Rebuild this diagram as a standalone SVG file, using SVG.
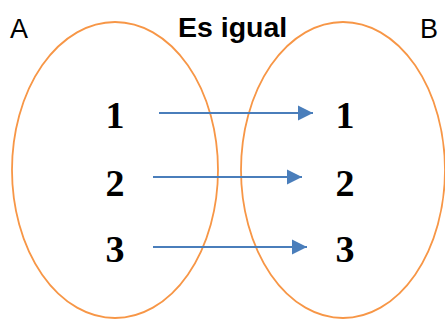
<svg xmlns="http://www.w3.org/2000/svg" width="445" height="320" viewBox="0 0 445 320">
<defs>
<style>
.set{fill:none;stroke:#F79646;stroke-width:1.8}
.lbl{font-family:"Liberation Sans",Arial,sans-serif;font-size:27px;fill:#000}
.title{font-family:"Liberation Sans",Arial,sans-serif;font-size:28.5px;font-weight:bold;fill:#000}
.num{font-family:"Liberation Serif","Times New Roman",serif;font-size:38px;font-weight:bold;fill:#000;text-anchor:middle}
.edge{stroke:#4A7EBB;stroke-width:2;fill:none}
</style>
<marker id="ah" markerUnits="userSpaceOnUse" markerWidth="16" markerHeight="16" viewBox="0 0 16 16" refX="15" refY="8" orient="auto">
<path d="M0,0.5 L15,8 L0,15.5 Z" fill="#4A7EBB"/>
</marker>
</defs>
<g id="setA">
<ellipse class="set" cx="115" cy="170" rx="103" ry="148"/>
<text class="lbl" x="10" y="38">A</text>
</g>
<g id="setB">
<ellipse class="set" cx="343" cy="170" rx="102" ry="148"/>
<text class="lbl" x="420" y="38">B</text>
</g>
<g id="title">
<text class="title" x="178" y="37">Es igual</text>
</g>
<g id="a1"><text class="num" x="115" y="128">1</text></g>
<g id="a2"><text class="num" x="115" y="196">2</text></g>
<g id="a3"><text class="num" x="115" y="262">3</text></g>
<g id="b1"><text class="num" x="345" y="128">1</text></g>
<g id="b2"><text class="num" x="345" y="196">2</text></g>
<g id="b3"><text class="num" x="345" y="262">3</text></g>
<g id="connectors">
<line class="edge" x1="159" y1="113" x2="313" y2="113" marker-end="url(#ah)"/>
<line class="edge" x1="153" y1="177" x2="302" y2="177" marker-end="url(#ah)"/>
<line class="edge" x1="153" y1="247" x2="307" y2="247" marker-end="url(#ah)"/>
</g>
</svg>
